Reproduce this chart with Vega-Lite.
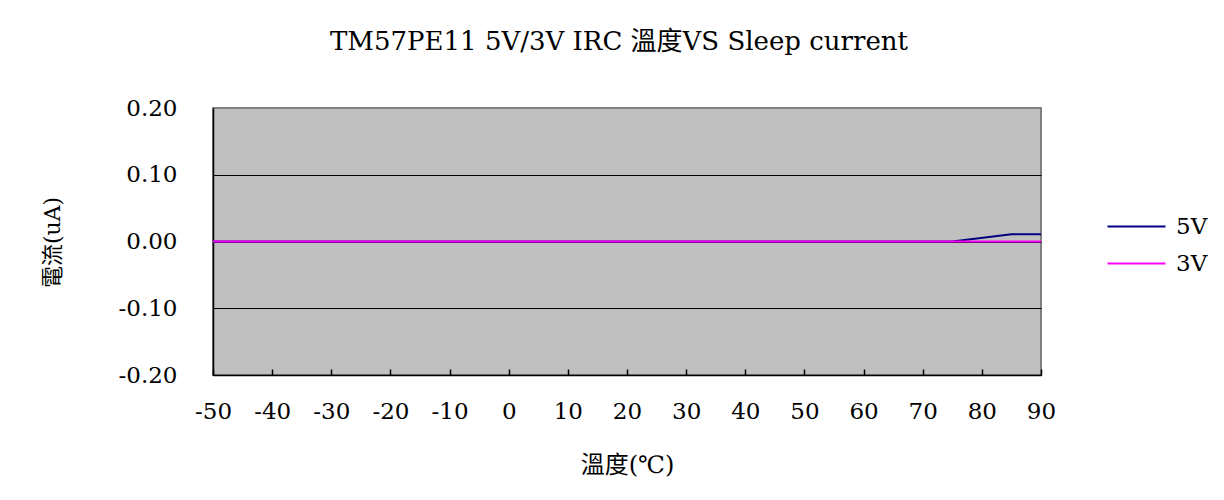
{
  "$schema": "https://vega.github.io/schema/vega-lite/v6.json",
  "autosize": "none",
  "width": 828,
  "height": 267,
  "padding": {"left": 213, "top": 108, "right": 183, "bottom": 125},
  "background": "white",
  "title": {
    "text": "TM57PE11 5V/3V IRC 溫度VS Sleep current",
    "font": "DejaVu Serif, Noto Sans CJK TC",
    "fontSize": 26,
    "fontWeight": "normal",
    "color": "black",
    "anchor": "middle",
    "frame": "group",
    "offset": 42,
    "dx": -8
  },
  "data": {
    "values": [
      {"t": -50, "s": "5V", "v": 0}, {"t": -40, "s": "5V", "v": 0}, {"t": -30, "s": "5V", "v": 0},
      {"t": -20, "s": "5V", "v": 0}, {"t": -10, "s": "5V", "v": 0}, {"t": 0, "s": "5V", "v": 0},
      {"t": 10, "s": "5V", "v": 0}, {"t": 20, "s": "5V", "v": 0}, {"t": 30, "s": "5V", "v": 0},
      {"t": 40, "s": "5V", "v": 0}, {"t": 50, "s": "5V", "v": 0}, {"t": 60, "s": "5V", "v": 0},
      {"t": 70, "s": "5V", "v": 0}, {"t": 75, "s": "5V", "v": 0}, {"t": 85, "s": "5V", "v": 0.011},
      {"t": 90, "s": "5V", "v": 0.011},
      {"t": -50, "s": "3V", "v": 0}, {"t": -40, "s": "3V", "v": 0}, {"t": -30, "s": "3V", "v": 0},
      {"t": -20, "s": "3V", "v": 0}, {"t": -10, "s": "3V", "v": 0}, {"t": 0, "s": "3V", "v": 0},
      {"t": 10, "s": "3V", "v": 0}, {"t": 20, "s": "3V", "v": 0}, {"t": 30, "s": "3V", "v": 0},
      {"t": 40, "s": "3V", "v": 0}, {"t": 50, "s": "3V", "v": 0}, {"t": 60, "s": "3V", "v": 0},
      {"t": 70, "s": "3V", "v": 0}, {"t": 75, "s": "3V", "v": 0}, {"t": 85, "s": "3V", "v": 0},
      {"t": 90, "s": "3V", "v": 0}
    ]
  },
  "mark": {"type": "line", "strokeWidth": 2, "clip": true},
  "encoding": {
    "x": {
      "field": "t",
      "type": "quantitative",
      "scale": {"domain": [-50, 90], "nice": false, "zero": false},
      "axis": {
        "title": "溫度(℃)",
        "values": [-50, -40, -30, -20, -10, 0, 10, 20, 30, 40, 50, 60, 70, 80, 90],
        "labelExpr": "replace(datum.label, '−', '-')",
        "grid": false,
        "domainColor": "black",
        "domainWidth": 1.5,
        "tickColor": "black",
        "tickSize": -6,
        "tickWidth": 1.5,
        "labelPadding": 31,
        "labelFont": "DejaVu Serif",
        "labelFontSize": 23,
        "labelColor": "black",
        "labelFlush": false,
        "labelOverlap": false,
        "titleFont": "DejaVu Serif, Noto Sans CJK TC",
        "titleFontSize": 24,
        "titleFontWeight": "normal",
        "titleColor": "black",
        "titlePadding": 30
      }
    },
    "y": {
      "field": "v",
      "type": "quantitative",
      "scale": {"domain": [-0.2, 0.2], "nice": false},
      "axis": {
        "title": "電流(uA)",
        "values": [-0.2, -0.1, 0, 0.1, 0.2],
        "format": ".2f",
        "labelExpr": "replace(datum.label, '−', '-')",
        "grid": true,
        "gridColor": {"condition": {"test": "datum.value > 0.15", "value": "#808080"}, "value": "black"},
        "gridWidth": 1,
        "gridOpacity": 1,
        "domainColor": "black",
        "domainWidth": 1.5,
        "ticks": false,
        "labelPadding": 36,
        "labelFont": "DejaVu Serif",
        "labelFontSize": 23,
        "labelColor": "black",
        "labelFlush": false,
        "titleFont": "DejaVu Serif, Noto Sans CJK TC",
        "titleFontSize": 22,
        "titleFontWeight": "normal",
        "titleColor": "black",
        "titleAngle": -90,
        "titleX": -161,
        "titleY": 134,
        "titleAlign": "center",
        "titleBaseline": "middle"
      }
    },
    "color": {
      "field": "s",
      "type": "nominal",
      "sort": ["5V", "3V"],
      "scale": {"domain": ["5V", "3V"], "range": ["#000080", "#FF00FF"]},
      "legend": {
        "title": null,
        "orient": "none",
        "legendX": 908,
        "legendY": 103,
        "padding": 0,
        "symbolType": "M-2,0H2",
        "symbolSize": 841,
        "symbolStrokeWidth": 2,
        "labelOffset": 24,
        "rowPadding": 9,
        "labelFont": "DejaVu Serif",
        "labelFontSize": 23,
        "labelColor": "black"
      }
    }
  },
  "config": {
    "view": {"fill": "#C0C0C0", "stroke": "#808080", "strokeWidth": 2}
  }
}
